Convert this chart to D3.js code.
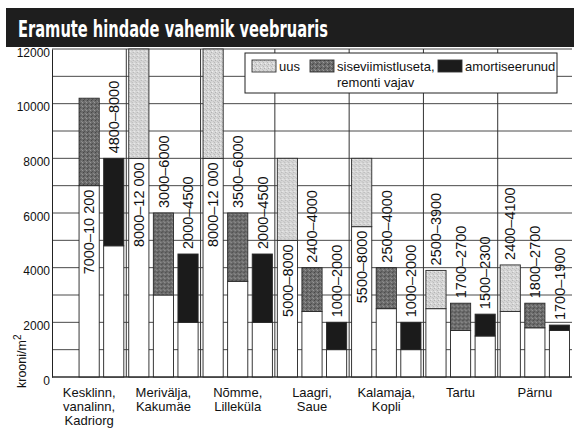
<!DOCTYPE html>
<html>
<head>
<meta charset="utf-8">
<script src="https://cdn.jsdelivr.net/npm/d3@7"></script>
<style>
  body { margin: 0; background: #fff; }
  svg { display: block; font-family: "Liberation Sans", Arial, sans-serif; }
</style>
</head>
<body>
<svg id="chart" width="574" height="428"></svg>
<script>
// data (kroons per m2)
const categories = [
  ["Kesklinn,", "vanalinn,", "Kadriorg"],
  ["Merivälja,", "Kakumäe"],
  ["Nõmme,", "Lilleküla"],
  ["Laagri,", "Saue"],
  ["Kalamaja,", "Kopli"],
  ["Tartu"],
  ["Pärnu"]
];
const seriesNames = ["uus", "siseviimistluseta,\nremonti vajav", "amortiseerunud"];
const uusMin    = [null, 8000, 8000, 5000, 5500, 2500, 2400];
const uusMax    = [null, 12000, 12000, 8000, 8000, 3900, 4100];
const remontMin = [7000, 3000, 3500, 2400, 2500, 1700, 1800];
const remontMax = [10200, 6000, 6000, 4000, 4000, 2700, 2700];
const amortMin  = [4800, 2000, 2000, 1000, 1000, 1500, 1700];
const amortMax  = [8000, 4500, 4500, 2000, 2000, 2300, 1900];
const yTicks = [0, 2000, 4000, 6000, 8000, 10000, 12000];

const svg = d3.select("#chart");
const mLeft = 52, mRight = 572, mTop = 49, mBottom = 377;

const x0 = d3.scaleBand().domain(d3.range(categories.length)).range([mLeft, mRight]);
const x1 = d3.scaleBand().domain([0, 1, 2]).range([0, x0.bandwidth()])
  .paddingInner(0.18).paddingOuter(0.1);
const y = d3.scaleLinear().domain([0, 12000]).range([mBottom, mTop]);

// textures
const defs = svg.append("defs");
function speckle(id, bg, dots) {
  const p = defs.append("pattern").attr("id", id)
    .attr("width", 4).attr("height", 4).attr("patternUnits", "userSpaceOnUse");
  p.append("rect").attr("width", 4).attr("height", 4).attr("fill", bg);
  dots.forEach(d => p.append("rect").attr("x", d[0]).attr("y", d[1])
    .attr("width", 1).attr("height", 1).attr("fill", d[2]));
}
speckle("pUus", "#d6d6d6", [[0,0,"#b0b0b0"],[2,1,"#c2c2c2"],[1,3,"#eeeeee"],[3,2,"#b8b8b8"]]);
speckle("pRem", "#6c6c6c", [[0,0,"#454545"],[2,1,"#8c8c8c"],[1,3,"#505050"],[3,2,"#9a9a9a"]]);
const fills = ["url(#pUus)", "url(#pRem)", "#1b1b1b"];

// grid
svg.append("g").selectAll("line").data(d3.range(0, 12001, 1000)).join("line")
  .attr("x1", mLeft).attr("x2", mRight)
  .attr("y1", d => y(d)).attr("y2", d => y(d))
  .attr("stroke", "#4a4a4a").attr("stroke-width", 1);
svg.append("g").selectAll("line").data(d3.range(1, categories.length)).join("line")
  .attr("x1", d => x0(d)).attr("x2", d => x0(d))
  .attr("y1", y(0)).attr("y2", y(12000))
  .attr("stroke", "#333").attr("stroke-width", 1);

// bars
const mins = [uusMin, remontMin, amortMin];
const maxs = [uusMax, remontMax, amortMax];
const bars = [];
categories.forEach((c, i) => {
  for (let s = 0; s < 3; s++) {
    if (mins[s][i] == null) continue;
    bars.push({ g: i, s: s, lo: mins[s][i], hi: maxs[s][i] });
  }
});
const fmt = v => v >= 10000 ? d3.format(",")(v).replace(",", " ") : String(v);

const bg = svg.append("g").selectAll("g").data(bars).join("g")
  .attr("transform", d => `translate(${x0(d.g) + x1(d.s)},0)`);
bg.append("rect")
  .attr("y", d => y(d.lo)).attr("height", d => y(0) - y(d.lo))
  .attr("width", x1.bandwidth())
  .attr("fill", "#fff").attr("stroke", "#222").attr("stroke-width", 0.9);
bg.append("rect")
  .attr("y", d => y(d.hi)).attr("height", d => y(d.lo) - y(d.hi))
  .attr("width", x1.bandwidth())
  .attr("fill", d => fills[d.s]).attr("stroke", "#2a2a2a").attr("stroke-width", 0.9);
bg.append("text")
  .attr("transform", d => {
    const inside = d.lo >= 5000;
    return `translate(${x1.bandwidth() / 2},${inside ? y(d.lo) + 4 : y(d.hi) - 5}) rotate(-90)`;
  })
  .attr("text-anchor", d => d.lo >= 5000 ? "end" : "start")
  .attr("dy", "0.36em")
  .attr("font-size", 14.5).attr("fill", "#111")
  .text(d => fmt(d.lo) + "–" + fmt(d.hi));

// y axis
const yAxis = svg.append("g").attr("transform", `translate(${mLeft},0)`)
  .call(d3.axisLeft(y).tickValues(yTicks).tickSize(0).tickPadding(2).tickFormat(d3.format("d")));
yAxis.select(".domain").attr("stroke", "#222");
yAxis.selectAll("text").attr("font-size", 12).attr("fill", "#111")
  .attr("font-family", "Liberation Sans, Arial, sans-serif").attr("dy", "0.6em");
svg.append("line").attr("x1", mLeft).attr("x2", mRight).attr("y1", y(0)).attr("y2", y(0))
  .attr("stroke", "#222").attr("stroke-width", 1.2);

svg.append("text").attr("transform", "translate(26,388) rotate(-90)")
  .attr("text-anchor", "start").attr("font-size", 12.5).attr("fill", "#111")
  .text("krooni/m")
  .append("tspan").attr("dy", -5).attr("font-size", 10).text("2");

// category labels
svg.append("g").selectAll("text").data(categories).join("text")
  .attr("x", (d, i) => x0(i) + x0.bandwidth() / 2).attr("y", 397)
  .attr("text-anchor", "middle").attr("font-size", 13).attr("fill", "#111")
  .selectAll("tspan").data(d => d).join("tspan")
  .attr("x", function () { return this.parentNode.getAttribute("x"); })
  .attr("dy", (d, j) => j ? 14 : 0)
  .text(d => d);

// legend
const lg = svg.append("g");
lg.append("rect").attr("x", 245).attr("y", 53).attr("width", 312).attr("height", 40)
  .attr("fill", "#fff").attr("stroke", "#222");
const legX = [252, 310, 438];
seriesNames.forEach((n, i) => {
  lg.append("rect").attr("x", legX[i]).attr("y", 60).attr("width", 24).attr("height", 12)
    .attr("fill", fills[i]).attr("stroke", "#333").attr("stroke-width", 0.9);
  const t = lg.append("text").attr("x", legX[i] + 27).attr("y", 71)
    .attr("font-size", 13).attr("fill", "#111");
  n.split("\n").forEach((line, j) => t.append("tspan")
    .attr("x", legX[i] + 27).attr("dy", j ? 16 : 0).text(line));
});

// title
svg.append("rect").attr("x", 6).attr("y", 8).attr("width", 568).attr("height", 39).attr("fill", "#1e1e1e");
svg.append("text").attr("x", 18).attr("y", 37)
  .attr("font-family", "'Liberation Sans Narrow', 'DejaVu Sans Condensed', 'Liberation Sans', sans-serif")
  .attr("font-weight", "bold").attr("font-size", 23).attr("fill", "#fff")
  .attr("textLength", 310).attr("lengthAdjust", "spacingAndGlyphs")
  .text("Eramute hindade vahemik veebruaris");
</script>
</body>
</html>
